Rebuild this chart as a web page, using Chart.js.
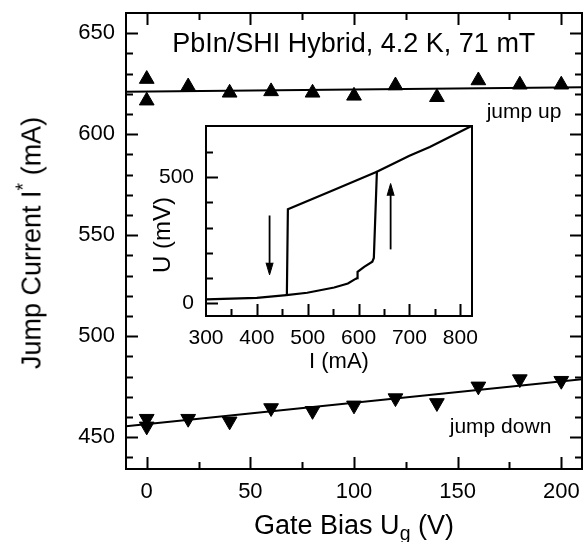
<!DOCTYPE html>
<html><head><meta charset="utf-8">
<script src="https://cdn.jsdelivr.net/npm/chart.js@4/dist/chart.umd.min.js"></script>
<style>
html,body{margin:0;padding:0;background:#fff;}
#wrap{position:relative;width:587px;height:542px;overflow:hidden;font-family:"Liberation Sans",Arial,Helvetica,sans-serif;color:#000;background:#fff;}
#main{position:absolute;left:0;top:0;width:587px;height:542px;}
#inset{position:absolute;left:140px;top:116px;width:345px;height:262px;}
.t{position:absolute;white-space:nowrap;line-height:1;font-size:27px;}
#xt{left:354px;top:512px;transform:translateX(-50%);}
#yt{left:32px;top:243px;transform:translate(-50%,-50%) rotate(-90deg);}
sub{font-size:0.72em;vertical-align:-0.32em;line-height:0;}
sup{font-size:0.72em;vertical-align:0.55em;line-height:0;}
</style></head><body>
<div id="wrap">
<canvas id="main" width="587" height="542"></canvas>
<canvas id="inset" width="345" height="262"></canvas>
<div class="t" id="xt">Gate Bias U<sub>g</sub> (V)</div>
<div class="t" id="yt">Jump Current I<sup>*</sup> (mA)</div>
</div>
<script>
// ---- main panel data ----
const gateBiasUp   = [0, 0, 20, 40, 60, 80, 100, 120, 140, 160, 180, 200];
const jumpUp       = [627.3, 616.6, 623.6, 620.5, 621.2, 620.5, 619.0, 624.1, 618.3, 626.6, 624.5, 624.5];
const gateBiasDown = [0, 0, 20, 40, 60, 80, 100, 120, 140, 160, 180, 200];
const jumpDown     = [459.2, 455.4, 459.2, 457.9, 464.5, 463.1, 465.8, 469.4, 467.0, 475.2, 478.8, 478.0];
const fitX         = [-10, 210];
const fitUp        = [621.0, 623.2];
const fitDown      = [455.5, 478.7];
const xTickVals    = [0, 50, 100, 150, 200];
const xMinorVals   = [25, 75, 125, 175];
const yTickVals    = [450, 500, 550, 600, 650];
const yMinorVals   = [440, 460, 470, 480, 490, 510, 520, 530, 540, 560, 570, 580, 590, 610, 620, 630, 640];
const noteTexts    = ['PbIn/SHI Hybrid, 4.2 K, 71 mT', 'jump up', 'jump down'];
const noteX        = [12.3, 164, 146.2];
const noteY        = [640.8, 607.9, 452.2];

// ---- inset data (I in mA, U in mV) ----
const curveI  = [300, 400, 458, 499, 552, 579, 594, 597, 598, 611, 627, 630, 636, 700, 740, 780, 823];
const curveU  = [16, 22, 33, 42, 63, 79, 97, 100, 125, 145, 165, 180, 522, 585, 620, 660, 704];
const returnI = [636, 550, 461, 459];
const returnU = [522, 448, 373, 33];
const arrowDownI = [425, 425];
const arrowDownU = [348, 158];
const arrowDownHeadI = [418, 425, 432];
const arrowDownHeadU = [161, 113, 161];
const arrowUpI = [663, 663];
const arrowUpU = [214, 430];
const arrowUpHeadI = [656, 663, 670];
const arrowUpHeadU = [427, 475, 427];
const insetXTicks = [300, 400, 500, 600, 700, 800];
const insetXMajor = [400, 500, 600, 700, 800];
const insetXMinor = [350, 450, 550, 650, 750];
const insetYTicks = [0, 500];
const insetYMinor = [100, 200, 300, 400, 600];
const insetYTitle = 'U (mV)';
const insetYTitleAt = 271;

const FONT = '"Liberation Sans", Arial, Helvetica, sans-serif';
const pts = (xs, ys) => xs.map((x, i) => ({x, y: ys[i]}));

function framePlugin(cfg) {
  return {
    id: 'frame_' + cfg.name,
    afterDatasetsDraw(chart) {
      const {ctx, chartArea: a, scales: {x, y}} = chart;
      ctx.save();
      ctx.strokeStyle = '#000';
      ctx.lineWidth = cfg.frameWidth;
      ctx.strokeRect(a.left, a.top, a.right - a.left, a.bottom - a.top);
      ctx.lineWidth = cfg.tickWidth;
      ctx.beginPath();
      const xt = (vals, len) => vals.forEach(v => {
        const p = Math.round(x.getPixelForValue(v)) + 0.5;
        ctx.moveTo(p, a.bottom); ctx.lineTo(p, a.bottom - len);
        if (cfg.mirror) { ctx.moveTo(p, a.top); ctx.lineTo(p, a.top + len); }
      });
      const yt = (vals, len) => vals.forEach(v => {
        const p = Math.round(y.getPixelForValue(v)) + 0.5;
        ctx.moveTo(a.left, p); ctx.lineTo(a.left + len, p);
        if (cfg.mirror) { ctx.moveTo(a.right, p); ctx.lineTo(a.right - len, p); }
      });
      xt(cfg.xMajor, cfg.majorLen); xt(cfg.xMinor, cfg.minorLen);
      yt(cfg.yMajor, cfg.majorLen); yt(cfg.yMinor, cfg.minorLen);
      ctx.stroke();
      ctx.fillStyle = '#000';
      if (cfg.notes) {
        ctx.textAlign = 'left';
        ctx.textBaseline = 'alphabetic';
        cfg.notes.texts.forEach((t, i) => {
          ctx.font = cfg.notes.sizes[i] + 'px ' + FONT;
          ctx.fillText(t, x.getPixelForValue(cfg.notes.x[i]), y.getPixelForValue(cfg.notes.y[i]));
        });
      }
      if (cfg.yTitle) {
        ctx.save();
        ctx.translate(a.left - cfg.yTitle.offset, y.getPixelForValue(cfg.yTitle.at));
        ctx.rotate(-Math.PI / 2);
        ctx.textAlign = 'center';
        ctx.textBaseline = 'middle';
        ctx.font = cfg.yTitle.size + 'px ' + FONT;
        ctx.fillText(cfg.yTitle.text, 0, 0);
        ctx.restore();
      }
      ctx.restore();
    }
  };
}

const fixX = h => s => { s.height = h; s.paddingLeft = 0; s.paddingRight = 0; };
const fixY = w => s => { s.width = w; s.paddingTop = 0; s.paddingBottom = 0; };
const lineDs = (data, w) => ({data, showLine: true, borderColor: '#000', borderWidth: w, pointRadius: 0, pointHoverRadius: 0, fill: false, tension: 0});

new Chart(document.getElementById('main'), {
  type: 'scatter',
  data: {datasets: [
    lineDs(pts(fitX, fitUp), 2),
    lineDs(pts(fitX, fitDown), 2),
    {data: pts(gateBiasUp, jumpUp), pointStyle: 'triangle', pointRadius: 8.5, backgroundColor: '#000', borderColor: '#000', borderWidth: 1},
    {data: pts(gateBiasDown, jumpDown), pointStyle: 'triangle', rotation: 180, pointRadius: 8.5, backgroundColor: '#000', borderColor: '#000', borderWidth: 1}
  ]},
  options: {
    responsive: false, animation: false, devicePixelRatio: 1,
    layout: {autoPadding: false, padding: {top: 13, right: 5, left: 0, bottom: 0}},
    plugins: {legend: {display: false}, tooltip: {enabled: false}},
    scales: {
      x: {type: 'linear', min: -10, max: 210,
          grid: {display: false, drawTicks: false}, border: {display: false},
          afterBuildTicks: s => { s.ticks = xTickVals.map(v => ({value: v})); },
          afterFit: fixX(73),
          ticks: {color: '#000', font: {family: FONT, size: 22}, padding: 10, maxRotation: 0, autoSkip: false}},
      y: {type: 'linear', min: 434.3, max: 660,
          grid: {display: false, drawTicks: false}, border: {display: false},
          afterBuildTicks: s => { s.ticks = yTickVals.map(v => ({value: v})); },
          afterFit: fixY(126),
          ticks: {color: '#000', font: {family: FONT, size: 22}, padding: 11, autoSkip: false}}
    }
  },
  plugins: [framePlugin({name: 'main', frameWidth: 2, tickWidth: 2, majorLen: 12, minorLen: 7, mirror: true,
    xMajor: xTickVals, xMinor: xMinorVals, yMajor: yTickVals, yMinor: yMinorVals,
    notes: {texts: noteTexts, x: noteX, y: noteY, sizes: [27, 21, 21]}})]
});

new Chart(document.getElementById('inset'), {
  type: 'scatter',
  data: {datasets: [
    lineDs(pts(curveI, curveU), 2.2),
    lineDs(pts(returnI, returnU), 2.2),
    lineDs(pts(arrowDownI, arrowDownU), 1.8),
    {...lineDs(pts(arrowDownHeadI, arrowDownHeadU), 1), fill: 'shape', backgroundColor: '#000'},
    lineDs(pts(arrowUpI, arrowUpU), 1.8),
    {...lineDs(pts(arrowUpHeadI, arrowUpHeadU), 1), fill: 'shape', backgroundColor: '#000'}
  ]},
  options: {
    responsive: false, animation: false, devicePixelRatio: 1,
    layout: {autoPadding: false, padding: {top: 10, right: 13, left: 0, bottom: 0}},
    plugins: {legend: {display: false}, tooltip: {enabled: false}},
    scales: {
      x: {type: 'linear', min: 300, max: 823,
          grid: {display: false, drawTicks: false}, border: {display: false},
          afterBuildTicks: s => { s.ticks = insetXTicks.map(v => ({value: v})); },
          afterFit: fixX(62),
          ticks: {color: '#000', font: {family: FONT, size: 21}, padding: 10, maxRotation: 0, autoSkip: false},
          title: {display: true, text: 'I (mA)', color: '#000', font: {family: FONT, size: 22}, padding: {top: 0, bottom: 3}}},
      y: {type: 'linear', min: -50, max: 703,
          grid: {display: false, drawTicks: false}, border: {display: false},
          afterBuildTicks: s => { s.ticks = insetYTicks.map(v => ({value: v})); },
          afterFit: fixY(66),
          ticks: {color: '#000', font: {family: FONT, size: 21}, padding: 12, autoSkip: false}}
    }
  },
  plugins: [framePlugin({name: 'inset', frameWidth: 2, tickWidth: 2, majorLen: 12, minorLen: 7, mirror: false,
    xMajor: insetXMajor, xMinor: insetXMinor, yMajor: insetYTicks, yMinor: insetYMinor,
    yTitle: {text: insetYTitle, at: insetYTitleAt, offset: 43, size: 24}})]
});
</script>
</body></html>
